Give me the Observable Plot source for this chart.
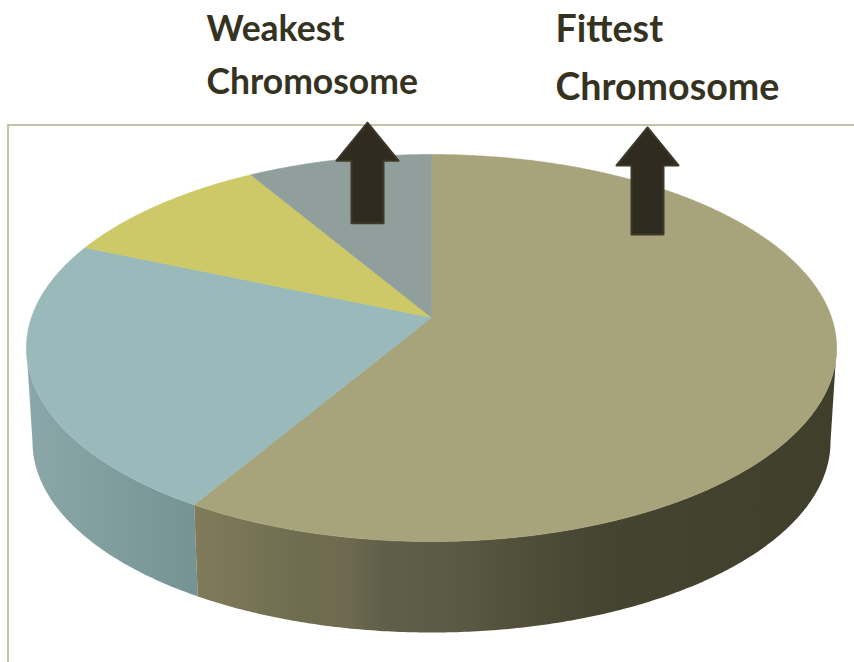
<!DOCTYPE html>
<html>
<head>
<meta charset="utf-8">
<script src="https://cdn.jsdelivr.net/npm/d3@7"></script>
<script src="https://cdn.jsdelivr.net/npm/@observablehq/plot@0.6"></script>
<style>
  html, body { margin: 0; background: #fff; }
  svg { display: block; }
</style>
</head>
<body>
<div id="chart"></div>
<script>
// Fitness share of each chromosome in the roulette wheel, clockwise from the top.
const sliceNames = ["Fittest", "Second", "Third", "Weakest"];
const sliceValues = [8.2, 3.2, 1.4, 1.2];
const sliceColors = ["#a7a37a", "#99b9bb", "#cdc968", "#909f9b"];

const arrowX = [-0.16, 0.54];
const arrowY = [0.5, 0.44];
const arrowLength = [100.5, 107];

const labelText = ["Weakest", "Chromosome", "Fittest", "Chromosome"];
const labelX = [-0.5625, -0.5625, 0.31, 0.31];
const labelY = [1.526, 1.245, 1.526, 1.219];
const labelSize = [35.5, 35.5, 37.6, 37.6];

// Perspective of the disc: k tilts the wheel, the lower rim is the same ring
// dropped and slightly shrunk.
const k = 0.1577;
const rimDrop = 0.5;
const rimScale = 0.985;

function rim(theta, lower) {
  const u = Math.sin(theta), v = Math.cos(theta), w = 1 + k * v;
  const s = lower ? rimScale : 1;
  return {x: (s * u) / w, y: (s * v) / w - (lower ? rimDrop : 0)};
}

const total = d3.sum(sliceValues);
let running = 0;
const slices = sliceValues.map((value, i) => {
  const start = (running / total) * 2 * Math.PI;
  running += value;
  return {name: sliceNames[i], start, end: (running / total) * 2 * Math.PI};
});

const step = Math.PI / 360;
const arc = (a, b, lower) => {
  const n = Math.max(1, Math.ceil(Math.abs(b - a) / step));
  return d3.range(n + 1).map((j) => rim(a + ((b - a) * j) / n, lower));
};

// Top face: a wedge from the hub out along the rim.
const faces = slices.flatMap(({name, start, end}) =>
  [{x: 0, y: 0}, ...arc(start, end, false), {x: 0, y: 0}].map((p) => ({...p, slice: name}))
);

// Side wall: only the part of the rim facing the viewer is drawn.
const silhouette = Math.acos(-k);
const wall = (slice) => {
  const a = Math.max(slice.start, silhouette);
  const b = Math.min(slice.end, 2 * Math.PI - silhouette);
  return [...arc(a, b, false), ...arc(b, a, true)];
};

// Pointer with a block head, drawn upward from its tail.
const blockArrow = {
  draw(context, l) {
    const head = 38, headHalf = 31, shaftHalf = 16;
    context.moveTo(-shaftHalf, 0);
    context.lineTo(-shaftHalf, -(l - head));
    context.lineTo(-headHalf, -(l - head));
    context.lineTo(0, -l);
    context.lineTo(headHalf, -(l - head));
    context.lineTo(shaftHalf, -(l - head));
    context.lineTo(shaftHalf, 0);
    context.closePath();
  }
};

const ramp = (id, stops) =>
  `<linearGradient id="${id}" x1="0" x2="1" y1="0" y2="0">` +
  stops.map(([o, c]) => `<stop offset="${o}" stop-color="${c}"/>`).join("") +
  `</linearGradient>`;

const defs = () => {
  const g = document.createElementNS("http://www.w3.org/2000/svg", "defs");
  g.innerHTML =
    ramp("wall-blue", [[0, "#8ba7a9"], [1, "#769393"]]) +
    ramp("wall-olive", [
      [0, "#807b5a"], [0.165, "#6f6d50"], [0.236, "#6f6950"], [0.29, "#60604a"],
      [0.4, "#5b5a44"], [0.51, "#504f3a"], [0.64, "#454430"], [1, "#3f3f2c"]
    ]);
  return g;
};

const wallFill = (slice, id) =>
  Plot.line(wall(slice), {x: "x", y: "y", fill: `url(#${id})`, stroke: "none"});

const arrowMark = (i) =>
  Plot.vector([{x: arrowX[i], y: arrowY[i]}], {
    x: "x", y: "y", length: arrowLength[i], rotate: 0, anchor: "start", shape: blockArrow,
    fill: "#2f2b1e", stroke: "#3c3929", strokeWidth: 2
  });

const labels = labelText.map((text, i) => ({text, x: labelX[i], y: labelY[i], size: labelSize[i]}));

const chart = Plot.plot({
  width: 854,
  height: 662,
  margin: 0,
  x: {domain: [-1, 1], range: [31, 831], axis: null},
  y: {domain: [-1, 1], range: [505.7, 128.3], axis: null},
  color: {domain: sliceNames, range: sliceColors},
  marks: [
    defs,
    Plot.frame({stroke: "#b8b48f", strokeWidth: 1.6, insetTop: 124.5, insetLeft: 7.5, insetRight: -10, insetBottom: -10}),
    wallFill(slices[1], "wall-blue"),
    wallFill(slices[0], "wall-olive"),
    Plot.line(faces, {x: "x", y: "y", z: "slice", fill: "slice", stroke: "slice", strokeWidth: 0.6}),
    arrowMark(0),
    arrowMark(1),
    Plot.text(labels, {
      x: "x", y: "y", text: "text", fontSize: "size", textAnchor: "start",
      lineAnchor: "middle", fontFamily: "Lato", fontWeight: 700, fill: "#35321f"
    })
  ]
});

document.getElementById("chart").append(chart);
</script>
</body>
</html>
